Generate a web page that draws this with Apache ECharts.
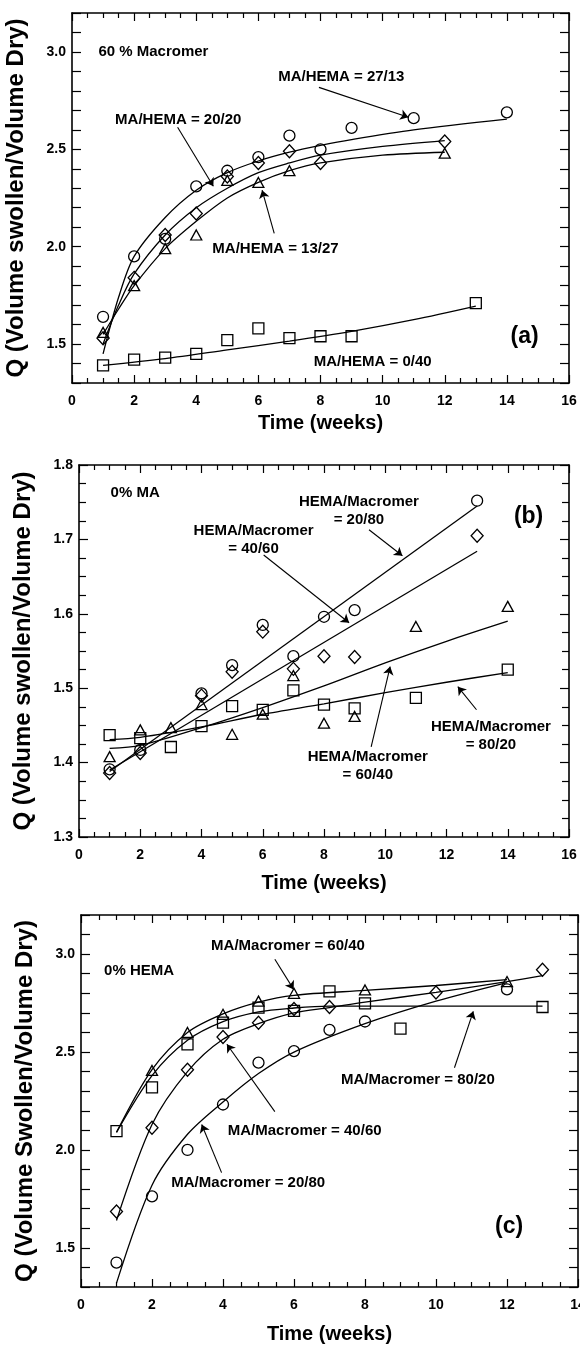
<!DOCTYPE html>
<html>
<head>
<meta charset="utf-8">
<script src="https://cdn.jsdelivr.net/npm/echarts@6.0.0/dist/echarts.min.js"></script>
<style>
  html, body { margin: 0; padding: 0; background: #fff; }
  #main { width: 580px; height: 1347px; }
</style>
</head>
<body>
<div id="main"></div>
<script>
// ---- panel (a): 60 % Macromer ----
const weeksA1 = [1, 2, 3, 4, 5, 6, 7, 8, 9, 11, 14];          // MA/HEMA = 27/13 (circles)
const qA1 = [1.64, 1.95, 2.04, 2.31, 2.39, 2.46, 2.57, 2.50, 2.61, 2.66, 2.69];
const weeksA2 = [1, 2, 3, 4, 5, 6, 7, 8, 12];                  // MA/HEMA = 20/20 (diamonds)
const qA2 = [1.53, 1.84, 2.06, 2.17, 2.36, 2.43, 2.49, 2.43, 2.54];
const weeksA3 = [1, 2, 3, 4, 5, 6, 7, 12];                     // MA/HEMA = 13/27 (triangles)
const qA3 = [1.56, 1.80, 1.99, 2.06, 2.34, 2.33, 2.39, 2.48];
const weeksA4 = [1, 2, 3, 4, 5, 6, 7, 8, 9, 13];               // MA/HEMA = 0/40 (squares)
const qA4 = [1.39, 1.42, 1.43, 1.45, 1.52, 1.58, 1.53, 1.54, 1.54, 1.71];

const fitWeeksA1 = [1, 1.5, 2, 3, 4, 5, 6, 7, 8, 9, 11, 14];
const fitQA1 = [1.45, 1.74, 1.95, 2.15, 2.29, 2.38, 2.44, 2.485, 2.52, 2.55, 2.60, 2.655];
const fitWeeksA2 = [1, 1.5, 2, 3, 4, 5, 6, 7, 8, 10, 12];
const fitQA2 = [1.50, 1.70, 1.86, 2.06, 2.20, 2.30, 2.38, 2.43, 2.47, 2.515, 2.545];
const fitWeeksA3 = [1, 1.5, 2, 3, 4, 5, 6, 7, 8, 10, 12];
const fitQA3 = [1.55, 1.68, 1.80, 1.99, 2.13, 2.25, 2.33, 2.39, 2.43, 2.47, 2.485];
const fitWeeksA4 = [1, 3, 5, 7, 9, 11, 13];
const fitQA4 = [1.39, 1.425, 1.47, 1.515, 1.565, 1.625, 1.695];

// ---- panel (b): 0% MA ----
const weeksB1 = [1, 2, 4, 5, 6, 7, 8, 9, 13];                  // HEMA/Macromer = 20/80 (circles)
const qB1 = [1.391, 1.417, 1.493, 1.531, 1.585, 1.543, 1.596, 1.605, 1.752];
const weeksB2 = [1, 2, 4, 5, 6, 7, 8, 9, 13];                  // 40/60 (diamonds)
const qB2 = [1.386, 1.413, 1.49, 1.522, 1.576, 1.526, 1.543, 1.542, 1.705];
const weeksB3 = [1, 2, 3, 4, 5, 6, 7, 8, 9, 11, 14];           // 60/40 (triangles)
const qB3 = [1.408, 1.444, 1.447, 1.478, 1.438, 1.465, 1.517, 1.453, 1.462, 1.583, 1.61];
const weeksB4 = [1, 2, 3, 4, 5, 6, 7, 8, 9, 11, 14];           // 80/20 (squares)
const qB4 = [1.437, 1.433, 1.421, 1.449, 1.476, 1.471, 1.497, 1.478, 1.473, 1.487, 1.525];

const fitWeeksB1 = [1, 13];
const fitQB1 = [1.388, 1.745];
const fitWeeksB2 = [1, 13];
const fitQB2 = [1.39, 1.684];
const fitWeeksB3 = [1, 2, 4, 6, 8, 10, 12, 14];
const fitQB3 = [1.419, 1.423, 1.447, 1.474, 1.503, 1.534, 1.563, 1.59];
const fitWeeksB4 = [1, 2, 4, 6, 8, 10, 12, 14];
const fitQB4 = [1.431, 1.434, 1.448, 1.465, 1.479, 1.494, 1.508, 1.521];

// ---- panel (c): 0% HEMA ----
const weeksC1 = [1, 2, 3, 4, 5, 6, 7, 8, 12];                  // MA/Macromer = 20/80 (circles)
const qC1 = [1.425, 1.763, 2.00, 2.232, 2.446, 2.505, 2.613, 2.656, 2.82];
const weeksC2 = [1, 2, 3, 4, 5, 6, 7, 10, 13];                 // 40/60 (diamonds)
const qC2 = [1.686, 2.113, 2.41, 2.577, 2.65, 2.72, 2.73, 2.804, 2.92];
const weeksC3 = [2, 3, 4, 5, 6, 8, 12];                        // 60/40 (triangles)
const qC3 = [2.406, 2.60, 2.693, 2.76, 2.80, 2.817, 2.86];
const weeksC4 = [1, 2, 3, 4, 5, 6, 7, 8, 9, 13];               // 80/20 (squares)
const qC4 = [2.096, 2.32, 2.539, 2.65, 2.727, 2.71, 2.81, 2.749, 2.62, 2.73];

const fitWeeksC1 = [1, 2, 3, 4, 5, 6, 8, 10, 12];
const fitQC1 = [1.32, 1.82, 2.08, 2.245, 2.39, 2.50, 2.645, 2.76, 2.855];
const fitWeeksC2 = [1, 2, 3, 4, 5, 6, 7, 8, 10, 12, 13];
const fitQC2 = [1.64, 2.13, 2.40, 2.565, 2.645, 2.70, 2.727, 2.755, 2.805, 2.86, 2.89];
const fitWeeksC3 = [1, 2, 3, 4, 5, 6, 8, 10, 12];
const fitQC3 = [2.09, 2.41, 2.60, 2.695, 2.755, 2.79, 2.815, 2.84, 2.87];
const fitWeeksC4 = [1, 2, 3, 4, 5, 6, 7, 13];
const fitQC4 = [2.09, 2.38, 2.56, 2.655, 2.705, 2.725, 2.735, 2.735];

// tick labels
const yLabelsAC = ['1.5', '2.0', '2.5', '3.0'];
const yLabelsB = ['1.3', '1.4', '1.5', '1.6', '1.7', '1.8'];

const font = '"Liberation Sans", Arial, Helvetica, sans-serif';
const black = '#000';

let chart = echarts.init(document.getElementById('main'), null, { renderer: 'canvas' });

const pts = (t, q) => t.map((x, i) => [x, q[i]]);

function scatter(g, t, q, symbol, size) {
  return {
    type: 'scatter',
    xAxisIndex: g * 2,
    yAxisIndex: g * 2,
    data: pts(t, q),
    symbol: symbol,
    symbolSize: size,
    itemStyle: { color: 'rgba(0,0,0,0)', borderColor: black, borderWidth: 1.3, opacity: 1 },
    z: 4,
    silent: true,
  };
}

function fit(g, t, q, arrow) {
  let s = {
    type: 'line',
    xAxisIndex: g * 2,
    yAxisIndex: g * 2,
    data: pts(t, q),
    symbol: 'none',
    showSymbol: false,
    smooth: 0.3,
    clip: true,
    lineStyle: { color: black, width: 1.3 },
    z: 3,
    silent: true,
  };
  if (arrow) {
    s.markLine = {
      silent: true,
      symbol: ['none', 'arrow'],
      symbolSize: 8,
      label: { show: false },
      lineStyle: { color: black, width: 1.1, type: 'solid' },
      data: [[{ coord: arrow[0] }, { coord: arrow[1] }]],
    };
  }
  return s;
}

function xAxes(g, max, gap) {
  const base = {
    gridIndex: g,
    type: 'value',
    min: 0,
    max: max,
    interval: 2,
    axisLine: { show: true, onZero: false, lineStyle: { color: black, width: 1.6 } },
    axisTick: { show: true, inside: true, length: 8, lineStyle: { color: black, width: 1.2 } },
    minorTick: { show: true, splitNumber: 4, length: 5, lineStyle: { color: black, width: 1.2 } },
    splitLine: { show: false },
    minorSplitLine: { show: false },
  };
  return [
    Object.assign({}, base, {
      position: 'bottom',
      axisLabel: { color: black, fontSize: 14, fontWeight: 'bold', fontFamily: font, margin: 11, showMaxLabel: true },
      name: 'Time (weeks)',
      nameLocation: 'middle',
      nameGap: gap,
      nameTextStyle: { color: black, fontSize: 20, fontWeight: 'bold', fontFamily: font },
    }),
    Object.assign({}, base, { position: 'top', axisLabel: { show: false } }),
  ];
}

function yAxes(g, min, max, labels, minor, name) {
  const base = {
    gridIndex: g,
    type: 'value',
    min: min,
    max: max,
    interval: 0.1,
    axisLine: { show: true, onZero: false, lineStyle: { color: black, width: 1.6 } },
    axisTick: { show: true, inside: true, length: 9, lineStyle: { color: black, width: 1.2 } },
    minorTick: { show: minor, splitNumber: 4, length: 7, lineStyle: { color: black, width: 1.2 } },
    splitLine: { show: false },
    minorSplitLine: { show: false },
  };
  return [
    Object.assign({}, base, {
      position: 'left',
      axisLabel: {
        color: black, fontSize: 14, fontWeight: 'bold', fontFamily: font, margin: 6,
        showMinLabel: true, showMaxLabel: true,
        formatter: (v) => {
          const s = v.toFixed(1);
          return labels.indexOf(s) != -1 ? s : '';
        },
      },
      name: name,
      nameLocation: 'middle',
      nameGap: 44,
      nameTextStyle: { color: black, fontSize: 24, fontWeight: 'bold', fontFamily: font },
    }),
    Object.assign({}, base, { position: 'right', axisLabel: { show: false } }),
  ];
}

const option = {
  animation: false,
  backgroundColor: '#fff',
  grid: [
    { left: 72, right: 11, top: 13, height: 370, outerBoundsMode: 'none' },
    { left: 79, right: 11, top: 465, height: 372, outerBoundsMode: 'none' },
    { left: 81, right: 2, top: 915, height: 372, outerBoundsMode: 'none' },
  ],
  xAxis: [].concat(xAxes(0, 16, 30), xAxes(1, 16, 36), xAxes(2, 14, 37)),
  yAxis: [].concat(
    yAxes(0, 1.3, 3.2, yLabelsAC, false, 'Q (Volume swollen/Volume Dry)'),
    yAxes(1, 1.3, 1.8, yLabelsB, true, 'Q (Volume swollen/Volume Dry)'),
    yAxes(2, 1.3, 3.2, yLabelsAC, false, 'Q (Volume Swollen/Volume Dry)')
  ),
  series: [
    // (a)
    fit(0, fitWeeksA1, fitQA1, [[7.95, 2.818], [10.83, 2.665]]),
    fit(0, fitWeeksA2, fitQA2, [[3.40, 2.613], [4.55, 2.31]]),
    fit(0, fitWeeksA3, fitQA3, [[6.51, 2.068], [6.12, 2.29]]),
    fit(0, fitWeeksA4, fitQA4),
    scatter(0, weeksA1, qA1, 'circle', 11),
    scatter(0, weeksA2, qA2, 'diamond', [12, 13]),
    scatter(0, weeksA3, qA3, 'triangle', [11, 10]),
    scatter(0, weeksA4, qA4, 'rect', 11),
    // (b)
    fit(1, fitWeeksB1, fitQB1, [[9.47, 1.713], [10.56, 1.678]]),
    fit(1, fitWeeksB2, fitQB2, [[6.03, 1.679], [8.82, 1.588]]),
    fit(1, fitWeeksB3, fitQB3, [[9.54, 1.421], [10.16, 1.529]]),
    fit(1, fitWeeksB4, fitQB4, [[12.98, 1.471], [12.37, 1.502]]),
    scatter(1, weeksB1, qB1, 'circle', 11),
    scatter(1, weeksB2, qB2, 'diamond', [12, 13]),
    scatter(1, weeksB3, qB3, 'triangle', [11, 10]),
    scatter(1, weeksB4, qB4, 'rect', 11),
    // (c)
    fit(2, fitWeeksC1, fitQC1, [[3.96, 1.884], [3.40, 2.13]]),
    fit(2, fitWeeksC2, fitQC2, [[5.46, 2.196], [4.11, 2.54]]),
    fit(2, fitWeeksC3, fitQC3, [[5.46, 2.974], [5.99, 2.82]]),
    fit(2, fitWeeksC4, fitQC4, [[10.52, 2.42], [11.05, 2.708]]),
    scatter(2, weeksC1, qC1, 'circle', 11),
    scatter(2, weeksC2, qC2, 'diamond', [12, 13]),
    scatter(2, weeksC3, qC3, 'triangle', [11, 10]),
    scatter(2, weeksC4, qC4, 'rect', 11),
  ],
};

chart.setOption(option);

// text labels, anchored in data units of each panel
const notes = [
  { g: 0, t: 0.85, q: 3.0, text: '60 % Macromer', align: 'left' },
  { g: 0, t: 8.67, q: 2.87, text: 'MA/HEMA = 27/13' },
  { g: 0, t: 3.42, q: 2.65, text: 'MA/HEMA = 20/20' },
  { g: 0, t: 6.55, q: 1.99, text: 'MA/HEMA = 13/27' },
  { g: 0, t: 9.68, q: 1.41, text: 'MA/HEMA = 0/40' },
  { g: 0, t: 14.57, q: 1.54, text: '(a)', size: 23 },
  { g: 1, t: 1.03, q: 1.763, text: '0% MA', align: 'left' },
  { g: 1, t: 9.14, q: 1.739, text: 'HEMA/Macromer\n= 20/80' },
  { g: 1, t: 5.70, q: 1.700, text: 'HEMA/Macromer\n= 40/60' },
  { g: 1, t: 13.45, q: 1.436, text: 'HEMA/Macromer\n= 80/20' },
  { g: 1, t: 9.43, q: 1.395, text: 'HEMA/Macromer\n= 60/40' },
  { g: 1, t: 14.68, q: 1.731, text: '(b)', size: 23 },
  { g: 2, t: 5.83, q: 3.04, text: 'MA/Macromer = 60/40' },
  { g: 2, t: 0.65, q: 2.915, text: '0% HEMA', align: 'left' },
  { g: 2, t: 9.49, q: 2.36, text: 'MA/Macromer = 80/20' },
  { g: 2, t: 6.3, q: 2.10, text: 'MA/Macromer = 40/60' },
  { g: 2, t: 4.71, q: 1.83, text: 'MA/Macromer = 20/80' },
  { g: 2, t: 12.06, q: 1.61, text: '(c)', size: 23 },
];

const graphic = notes.map((n) => {
  const p = chart.convertToPixel({ xAxisIndex: n.g * 2, yAxisIndex: n.g * 2 }, [n.t, n.q]);
  return {
    type: 'text',
    x: p[0],
    y: p[1],
    z: 10,
    silent: true,
    style: {
      text: n.text,
      fill: black,
      fontSize: n.size || 15,
      fontWeight: 'bold',
      fontFamily: font,
      lineHeight: 18,
      align: n.align || 'center',
      verticalAlign: 'middle',
      textAlign: n.align || 'center',
      textVerticalAlign: 'middle',
    },
  };
});

chart.setOption({ graphic: graphic });
</script>
</body>
</html>
